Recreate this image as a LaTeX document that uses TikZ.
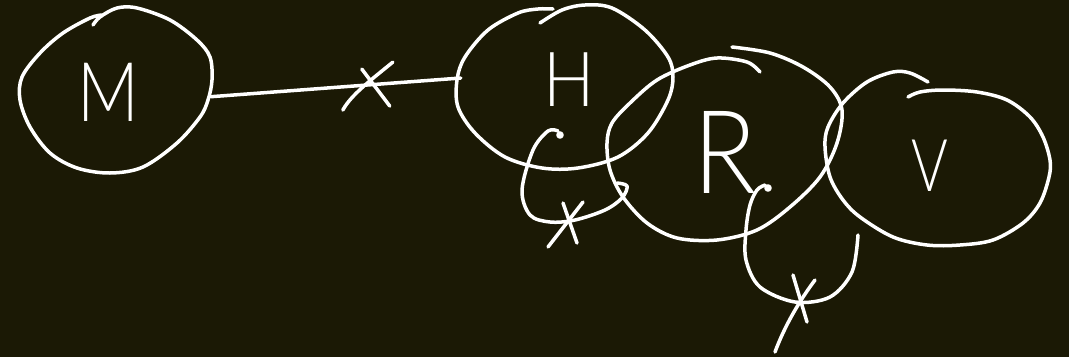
\documentclass[tikz,border=0pt]{standalone}
\usepackage{fontspec}
\newfontfamily\hand{Lato Light}
\usepackage{graphicx}
\usetikzlibrary{shapes.geometric,calc}
\definecolor{bg}{RGB}{27,25,5}
\tikzset{
  ink/.style={draw=white, line width=3.5pt, line cap=round, line join=round},
  anchorshape/.style={ellipse, inner sep=0pt, draw=none},
  lab/.style={text=white, font=\hand\fontsize{80}{80}\selectfont, inner sep=0pt},
  hand/.style={ink, smooth, tension=0.55},
}
\begin{document}
\begin{tikzpicture}[x=1pt,y=-1pt]
\fill[bg] (0,0) rectangle (1069,357);
\useasboundingbox (0,0) rectangle (1069,357);

% node regions (used for anchoring)
\node[anchorshape, minimum width=192pt, minimum height=166pt] (Mo) at (115,90) {};
\node[anchorshape, minimum width=216pt, minimum height=163pt] (Ho) at (563,88) {};
\node[anchorshape, minimum width=236pt, minimum height=194pt] (Ro) at (725,143) {};
\node[anchorshape, minimum width=225pt, minimum height=173pt] (Vo) at (937,158) {};

% hand-drawn outlines
\draw[hand] plot coordinates {(93,25) (100,17) (117,8) (137,8) (170,20) (197,40) (210,57) (212,80) (208,100) (200,117) (177,143) (143,167) (110,173) (77,168) (50,153) (30,127) (20,100) (22,77) (40,53) (63,33) (90,18) (102,15)};
\draw[hand] plot coordinates {(540,23) (562,10) (585,5) (612,8) (645,30) (668,57) (673,77) (668,100) (648,133) (618,157) (578,168) (542,168) (505,157) (475,133) (458,107) (457,80) (465,57) (488,30) (518,13) (538,9) (553,9)};
\draw[hand] plot coordinates {(732,47) (770,53) (803,67) (830,87) (842,110) (837,143) (820,177) (790,207) (757,230) (717,240) (677,238) (647,223) (623,197) (610,170) (607,143) (612,123) (630,103) (657,80) (690,65) (717,58) (747,62) (760,72)};
\draw[hand] plot coordinates {(928,82) (910,73) (893,72) (867,82) (843,103) (828,127) (825,147) (830,177) (843,200) (860,217) (893,237) (927,245) (960,245) (993,240) (1023,223) (1040,203) (1049,177) (1050,160) (1043,137) (1030,117) (1007,100) (977,92) (943,90) (920,92) (908,97)};

% letters
\node[lab] (M) at (108,92) {\scalebox{0.85}[1.03]{M}};
\node[lab] (H) at (569,80) {\scalebox{0.85}[0.95]{H}};
\node[lab] (R) at (725,152) {\scalebox{1.3}[1.45]{R}};
\node[lab] (V) at (930,166) {\scalebox{0.7}[0.91]{V}};

% M -- H connector with cut mark
\draw[ink] (Mo.-4) -- coordinate[pos=0.62] (mx) ($(Ho.west)+(6,-10)$);
\draw[ink] ($(mx)+(-4,-16)$) -- ($(mx)+(24,21)$);
\draw[ink] ($(mx)+(27,-23)$) .. controls ($(mx)+(5,-5)$) and ($(mx)+(-15,10)$) .. ($(mx)+(-23,25)$);

% self loop on H
\coordinate (hd) at ($(Ho)+(-3,47)$);
\draw[ink] (hd) circle (2);
\draw[hand] plot coordinates {(558,131) (548,131) (533,150) (522,190) (530,215) (550,222) (575,220) (605,210) (622,198) (627,186) (617,183)};
\coordinate (hx) at (567,222);
\draw[ink] ($(hx)+(-4,-19)$) -- ($(hx)+(10,21)$);
\draw[ink] ($(hx)+(16,-20)$) -- ($(hx)+(-19,25)$);

% self loop on R
\coordinate (rd) at ($(Ro)+(43,45)$);
\draw[ink] (rd) circle (2);
\draw[hand] plot coordinates {(765,185) (757,190) (750,205) (746,230) (746,260) (760,287) (795,302) (830,297) (852,272) (858,235)};
\coordinate (rx) at (800,302);
\draw[ink] ($(rx)+(-7,-27)$) -- ($(rx)+(7,20)$);
\draw[ink] ($(rx)+(15,-22)$) .. controls ($(rx)+(0,-2)$) and ($(rx)+(-15,23)$) .. ($(rx)+(-25,50)$);
\end{tikzpicture}
\end{document}
